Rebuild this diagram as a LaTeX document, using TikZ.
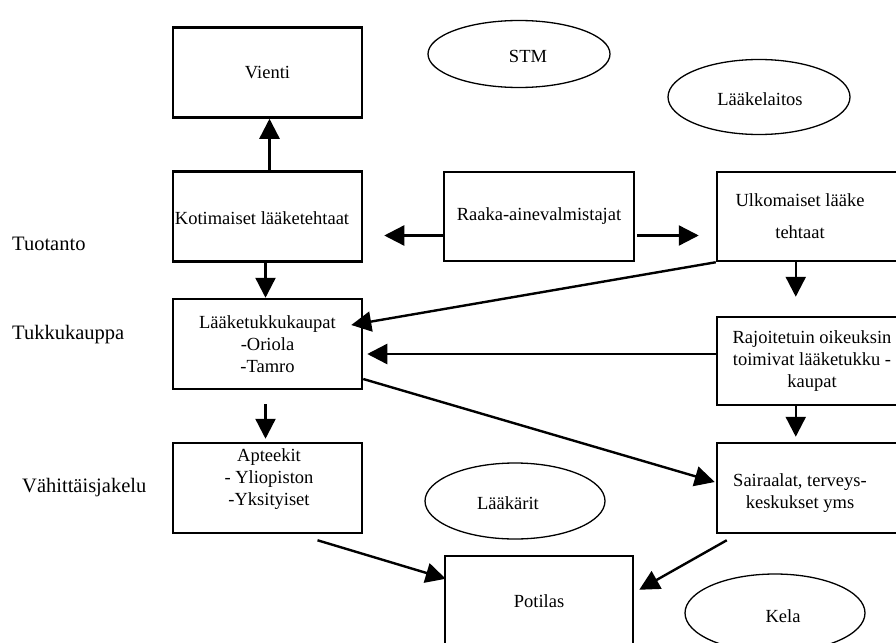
\documentclass[tikz,border=0pt]{standalone}
\usepackage{fontspec}
\setmainfont{Liberation Serif}
\usetikzlibrary{arrows.meta,shapes.geometric,calc}
\newcommand\bxfont{\fontsize{18.5}{22}\selectfont}
\newcommand\lbfont{\fontsize{20.5}{24}\selectfont}
\begin{document}
\begin{tikzpicture}[x=1pt,y=-1pt,
  box/.style={draw, line width=2.5pt, minimum width=189pt, minimum height=90pt, inner sep=0pt, align=center, font=\bxfont},
  txt/.style={inner sep=0pt, align=center, font=\bxfont},
  oval/.style={draw, ellipse, line width=1.3pt, minimum width=182pt, minimum height=70pt, inner sep=0pt, font=\bxfont},
  lab/.style={anchor=west, inner sep=0pt, font=\lbfont},
  arr/.style={line width=2.4pt, -{Triangle[length=20pt,width=20pt]}}
]
\useasboundingbox (0,0) rectangle (896,642);
\clip (0,0) rectangle (896,642);

% boxes
\node[box] (vienti) at (267.5,72.5) {Vienti};
\node[box] (koti) at (267.5,216.5) {};
\node[txt] (koti-t) at (262,218) {Kotimaiset lääketehtaat};
\node[box, minimum width=190pt, minimum height=89pt] (raaka) at (539,216.5) {Raaka-ainevalmistajat};
\node[box, minimum width=190pt, minimum height=89pt] (ulko) at (812,216.5) {};
\node[txt] (ulko-t) at (800,216) {Ulkomaiset lääke\\[10pt]tehtaat};
\node[box] (tukku) at (267.5,344) {Lääketukkukaupat\\-Oriola\\-Tamro};
\node[box] (apteek) at (267.5,488) {};
\node[txt] (apteek-t) at (269,479) {Apteekit\\- Yliopiston\\-Yksityiset};
\node[box, minimum width=190pt, minimum height=88pt] (raj) at (812,361) {Rajoitetuin oikeuksin\\toimivat lääketukku -\\kaupat};
\node[box, minimum width=190pt] (sair) at (812,488) {};
\node[txt] (sair-t) at (800,493) {Sairaalat, terveys-\\keskukset yms};
\node[box, minimum width=188pt] (potilas) at (539,601) {Potilas};

% ellipses
\node[oval, minimum height=67pt] (stm) at (519,54) {};
\node[txt] (stm-t) at (528,56) {STM};
\node[oval, minimum height=75pt] (laake) at (759,97) {};
\node[txt] (laake-t) at (760,99) {Lääkelaitos};
\node[oval, minimum width=180pt, minimum height=76pt] (laakarit) at (515,501) {};
\node[txt] (laakarit-t) at (508,503) {Lääkärit};
\node[oval, minimum width=180pt, minimum height=78pt] (kela) at (775,613) {};
\node[txt] (kela-t) at (783,616) {Kela};

% side labels
\node[lab] (tuotanto) at (12,244) {Tuotanto};
\node[lab] (tukkukauppa) at (12,335) {Tukkukauppa};
\node[lab] (vahittais) at (22,488) {Vähittäisjakelu};

% connectors
\draw[arr] ($(koti.north)+(2,0)$) -- ($(vienti.south)+(2,0)$);
\draw[arr, shorten >=21pt] ($(raaka.west)+(0,19)$) -- ($(koti.east)+(0,19)$);
\draw[arr, shorten <=2pt, shorten >=17pt] ($(raaka.east)+(0,19)$) -- ($(ulko.west)+(0,19)$);
\draw[arr] ($(koti.south)+(-2,0)$) -- ($(tukku.north)+(-2,0)$);
\draw[arr, shorten <=14pt, shorten >=3pt] ($(tukku.south)+(-2,0)$) -- ($(apteek.north)+(-2,0)$);
\draw[arr] (ulko.south west) -- ($(tukku.east)+(-12,-19)$);
\draw[arr, shorten >=4pt] ($(raj.west)+(0,-7)$) -- ($(tukku.east)+(0,10)$);
\draw[arr] ($(tukku.east)+(0,35)$) -- ($(sair.west)+(-1,-6)$);
\draw[arr, shorten >=19pt] ($(ulko.south west)+(80,0)$) -- ($(raj.north west)+(80,0)$);
\draw[arr, shorten >=5pt] ($(raj.south west)+(80,0)$) -- ($(sair.north west)+(80,0)$);
\draw[arr] ($(apteek.south)+(50,6)$) -- ($(potilas.north west)+(2,24)$);
\draw[arr] ($(sair.south west)+(11,6)$) -- ($(potilas.north east)+(5,35)$);
\end{tikzpicture}
\end{document}
